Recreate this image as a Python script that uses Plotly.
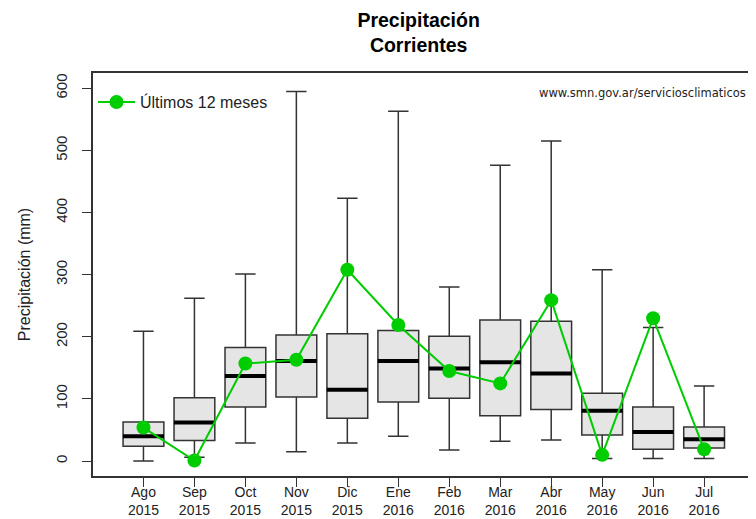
import plotly.graph_objects as go

# categorias (mes / año)
meses = ["Ago<br>2015", "Sep<br>2015", "Oct<br>2015", "Nov<br>2015", "Dic<br>2015", "Ene<br>2016",
         "Feb<br>2016", "Mar<br>2016", "Abr<br>2016", "May<br>2016", "Jun<br>2016", "Jul<br>2016"]

# estadisticas historicas (mm)
minimo = [0, 6, 29, 15, 29, 40, 18, 32, 34, 4, 4, 4]
q1 = [24, 33, 87, 103, 69, 95, 101, 73, 83, 42, 19, 21]
mediana = [40, 62, 137, 161, 115, 161, 149, 159, 141, 81, 47, 35]
q3 = [63, 102, 183, 203, 205, 210, 201, 227, 225, 109, 87, 55]
maximo = [209, 262, 301, 595, 423, 563, 280, 476, 515, 308, 215, 121]

# ultimos 12 meses (mm)
ultimos = [54, 1, 157, 163, 308, 219, 145, 125, 259, 10, 230, 19]

fig = go.Figure()

fig.add_trace(go.Box(
    x=meses, q1=q1, median=mediana, q3=q3,
    lowerfence=minimo, upperfence=maximo,
    boxpoints=False, width=0.8, whiskerwidth=0.5,
    fillcolor="#e5e5e5", line=dict(color="#333333", width=1.5),
    showlegend=False, hoverinfo="skip"))

# mediana gruesa estilo R
fig.add_trace(go.Scatter(
    x=meses, y=mediana, mode="markers",
    marker=dict(symbol="line-ew", size=29.3, line=dict(color="black", width=4)),
    showlegend=False, hoverinfo="skip"))

fig.add_trace(go.Scatter(
    x=meses, y=ultimos, mode="lines+markers", name="Últimos 12 meses",
    line=dict(color="#00cd00", width=2),
    marker=dict(color="#00cd00", size=14)))

fig.add_annotation(text="www.smn.gov.ar/serviciosclimaticos", xref="paper", yref="paper",
                   x=0.995, y=0.950, xanchor="right", yanchor="middle", showarrow=False,
                   font=dict(family="DejaVu Sans", size=11.5, color="#222222"))

# la pagina agrega 8px de margen al body
fig.update_layout(
    width=748, height=511,
    margin=dict(l=85, r=3, t=65, b=43),
    paper_bgcolor="white", plot_bgcolor="white",
    font=dict(family="Liberation Sans", color="#222222"),
    title=dict(text="<b>Precipitación</b><br><b>Corrientes</b>", x=0.549, xanchor="center",
               y=0.963, yanchor="top", font=dict(size=19.5, color="black")),
    legend=dict(x=0.0, y=0.97, xanchor="left", yanchor="top", bgcolor="rgba(0,0,0,0)",
                font=dict(size=16), itemwidth=37),
    showlegend=True)

fig.update_xaxes(range=[-0.99, 11.92], showline=True, linecolor="#333333", linewidth=1.5,
                 mirror=True, ticks="outside", ticklen=9, tickcolor="#333333",
                 showgrid=False, tickfont=dict(size=14), ticklabelstandoff=-7,
                 automargin=False)
fig.update_yaxes(range=[-24, 624.6], showline=True, linecolor="#333333", linewidth=1.5,
                 mirror=True, ticks="outside", ticklen=9, tickcolor="#333333",
                 showgrid=False, zeroline=False, tickvals=[0, 100, 200, 300, 400, 500, 600],
                 tickangle=-90, tickfont=dict(size=15), ticklabelstandoff=9,
                 automargin=True,
                 title=dict(text="Precipitación (mm)", font=dict(size=16), standoff=19))

fig.write_html("out.html")
